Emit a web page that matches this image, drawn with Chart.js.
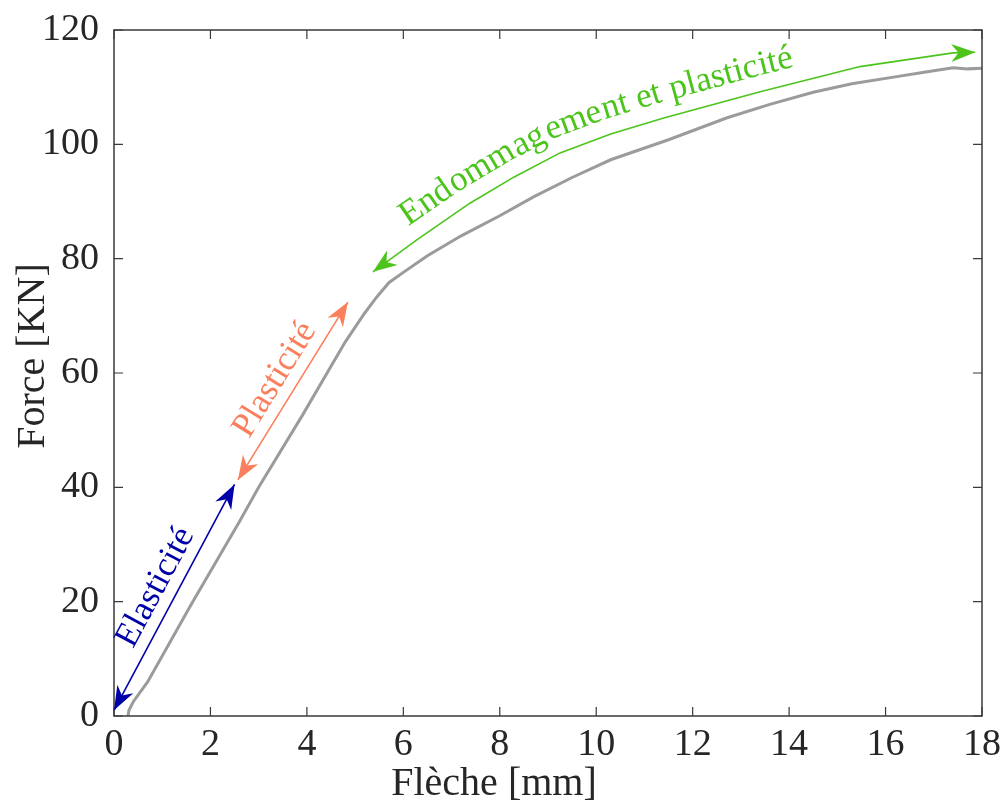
<!DOCTYPE html>
<html>
<head>
<meta charset="utf-8">
<script src="https://cdn.jsdelivr.net/npm/chart.js@4/dist/chart.umd.min.js"></script>
<style>
  body { margin: 0; background: #fff; }
</style>
</head>
<body>
<canvas id="essai" width="1003" height="807"></canvas>
<script>
// courbe force / fleche
var flecheMm = [0.29, 0.31, 0.4, 0.7, 1.6, 2.6, 3.0, 3.9, 4.8, 5.2, 5.45, 5.7, 6.0, 6.5, 7.2, 8.0, 8.7, 9.5, 10.3, 11.5, 12.7, 13.6, 14.5, 15.3, 16.2, 16.8, 17.4, 17.7, 18.0];
var forceKn = [0, 1, 2.5, 6, 19.5, 34, 40, 52.5, 65.5, 70.5, 73.3, 75.8, 77.6, 80.5, 84, 87.5, 90.8, 94.2, 97.3, 100.8, 104.6, 107, 109.1, 110.6, 111.8, 112.6, 113.4, 113.2, 113.3];

// fleches d'annotation (extremites en mm / kN)
var elastX = [0, 2.5];
var elastY = [1, 40.5];
var plastX = [2.57, 4.85];
var plastY = [41.3, 72.4];
var endoX = [5.37, 6.28, 7.38, 8.3, 9.25, 10.3, 11.4, 13.4, 15.47, 17.4, 17.86];
var endoY = [77.7, 83.3, 89.7, 94.3, 98.5, 101.8, 104.6, 109.2, 113.6, 116.0, 116.1];

var xTicks = [0, 2, 4, 6, 8, 10, 12, 14, 16, 18];
var yTicks = [0, 20, 40, 60, 80, 100, 120];

var bleu = "#0000a8";
var corail = "#fa7f5c";
var vert = "#4cc41c";
var encre = "#262626";
var police = '"Liberation Serif", "DejaVu Serif", serif';

function pts(xs, ys) {
  var out = [];
  for (var i = 0; i < xs.length; i++) out.push({ x: xs[i], y: ys[i] });
  return out;
}

// pointe de fleche style matlab (vback2)
function pointe(ctx, p, q, couleur) {
  var dx = p.x - q.x, dy = p.y - q.y;
  var l = Math.sqrt(dx * dx + dy * dy);
  dx /= l; dy /= l;
  var L = 24, W = 9;
  var bx = p.x - dx * L, by = p.y - dy * L;
  ctx.save();
  ctx.fillStyle = couleur;
  ctx.beginPath();
  ctx.moveTo(p.x, p.y);
  ctx.lineTo(bx - dy * W, by + dx * W);
  ctx.lineTo(p.x - dx * L * 0.7, p.y - dy * L * 0.7);
  ctx.lineTo(bx + dy * W, by - dx * W);
  ctx.closePath();
  ctx.fill();
  ctx.restore();
}

// texte parallele a une fleche droite
function texteLe(ctx, a, b, txt, couleur, decal) {
  var dx = b.x - a.x, dy = b.y - a.y;
  var l = Math.sqrt(dx * dx + dy * dy);
  var ux = dx / l, uy = dy / l;
  var mx = (a.x + b.x) / 2 + uy * decal, my = (a.y + b.y) / 2 - ux * decal;
  ctx.save();
  ctx.translate(mx, my);
  ctx.rotate(Math.atan2(uy, ux));
  ctx.fillStyle = couleur;
  ctx.font = "35px " + police;
  ctx.textAlign = "center";
  ctx.textBaseline = "alphabetic";
  ctx.fillText(txt, 0, 0);
  ctx.restore();
}

// texte le long d'une polyligne
function texteCourbe(ctx, p, txt, couleur, debut, decal) {
  var cum = [0];
  for (var i = 1; i < p.length; i++) {
    cum.push(cum[i - 1] + Math.hypot(p[i].x - p[i - 1].x, p[i].y - p[i - 1].y));
  }
  function at(s) {
    var k = 1;
    while (k < p.length - 1 && cum[k] < s) k++;
    var seg = cum[k] - cum[k - 1];
    var t = (s - cum[k - 1]) / seg;
    var ux = (p[k].x - p[k - 1].x) / seg, uy = (p[k].y - p[k - 1].y) / seg;
    return { x: p[k - 1].x + (p[k].x - p[k - 1].x) * t, y: p[k - 1].y + (p[k].y - p[k - 1].y) * t, ux: ux, uy: uy };
  }
  ctx.save();
  ctx.fillStyle = couleur;
  ctx.font = "35px " + police;
  ctx.textAlign = "center";
  ctx.textBaseline = "alphabetic";
  var s = debut;
  for (var j = 0; j < txt.length; j++) {
    var w = ctx.measureText(txt[j]).width;
    var c = at(s + w / 2);
    ctx.save();
    ctx.translate(c.x + c.uy * decal, c.y - c.ux * decal);
    ctx.rotate(Math.atan2(c.uy, c.ux));
    ctx.fillText(txt[j], 0, 0);
    ctx.restore();
    s += w;
  }
  ctx.restore();
}

var decor = {
  id: "decor",
  afterDraw: function (chart) {
    var ctx = chart.ctx;
    var ca = chart.chartArea;
    var sx = chart.scales.x, sy = chart.scales.y;

    // cadre + graduations interieures
    ctx.save();
    ctx.strokeStyle = "#3a3a3a";
    ctx.lineWidth = 1.5;
    ctx.strokeRect(ca.left, ca.top, ca.right - ca.left, ca.bottom - ca.top);
    ctx.lineWidth = 1.2;
    ctx.beginPath();
    xTicks.forEach(function (v) {
      var px = sx.getPixelForValue(v);
      ctx.moveTo(px, ca.bottom); ctx.lineTo(px, ca.bottom - 9);
      ctx.moveTo(px, ca.top); ctx.lineTo(px, ca.top + 9);
    });
    yTicks.forEach(function (v) {
      var py = sy.getPixelForValue(v);
      ctx.moveTo(ca.left, py); ctx.lineTo(ca.left + 9, py);
      ctx.moveTo(ca.right, py); ctx.lineTo(ca.right - 9, py);
    });
    ctx.stroke();

    // titres des axes
    ctx.fillStyle = encre;
    ctx.font = "40px " + police;
    ctx.textAlign = "center";
    ctx.textBaseline = "middle";
    ctx.fillText("Flèche [mm]", 494, 784);
    ctx.translate(33, 356);
    ctx.rotate(-Math.PI / 2);
    ctx.fillText("Force [KN]", 0, 0);
    ctx.restore();

    // fleches et textes
    var e = chart.getDatasetMeta(1).data;
    var p = chart.getDatasetMeta(2).data;
    var g = chart.getDatasetMeta(3).data;
    pointe(ctx, e[0], e[1], bleu);
    pointe(ctx, e[1], e[0], bleu);
    pointe(ctx, p[0], p[1], corail);
    pointe(ctx, p[1], p[0], corail);
    pointe(ctx, g[0], g[1], vert);
    pointe(ctx, g[g.length - 1], g[g.length - 2], vert);
    texteLe(ctx, e[0], e[1], "Elasticité", bleu, 12);
    texteLe(ctx, p[0], p[1], "Plasticité", corail, 12);
    texteCourbe(ctx, g, "Endommagement et plasticité", vert, 55, 16);
  }
};

var ctx = document.getElementById("essai").getContext("2d");
var chart = new Chart(ctx, {
  type: "scatter",
  data: {
    datasets: [
      { data: pts(flecheMm, forceKn), showLine: true, borderColor: "#9b9b9b", borderWidth: 3, pointRadius: 0 },
      { data: pts(elastX, elastY), showLine: true, borderColor: bleu, borderWidth: 1.6, pointRadius: 0, clip: false },
      { data: pts(plastX, plastY), showLine: true, borderColor: corail, borderWidth: 1.6, pointRadius: 0, clip: false },
      { data: pts(endoX, endoY), showLine: true, borderColor: vert, borderWidth: 1.6, pointRadius: 0, clip: false }
    ]
  },
  options: {
    responsive: false,
    animation: false,
    layout: { padding: { top: 30, right: 21, left: 0, bottom: 0 } },
    plugins: { legend: { display: false }, tooltip: { enabled: false } },
    scales: {
      x: {
        type: "linear", min: 0, max: 18,
        ticks: { stepSize: 2, maxRotation: 0, padding: 6, color: encre, font: { family: police, size: 38 } },
        grid: { display: false, drawTicks: false },
        border: { display: false },
        afterFit: function (s) { s.height = 91; s.paddingLeft = 0; s.paddingRight = 0; }
      },
      y: {
        min: 0, max: 120,
        ticks: { stepSize: 20, padding: 15, color: encre, font: { family: police, size: 38 } },
        grid: { display: false, drawTicks: false },
        border: { display: false },
        afterFit: function (s) { s.width = 114; s.paddingTop = 0; s.paddingBottom = 0; }
      }
    }
  },
  plugins: [decor]
});
</script>
</body>
</html>
